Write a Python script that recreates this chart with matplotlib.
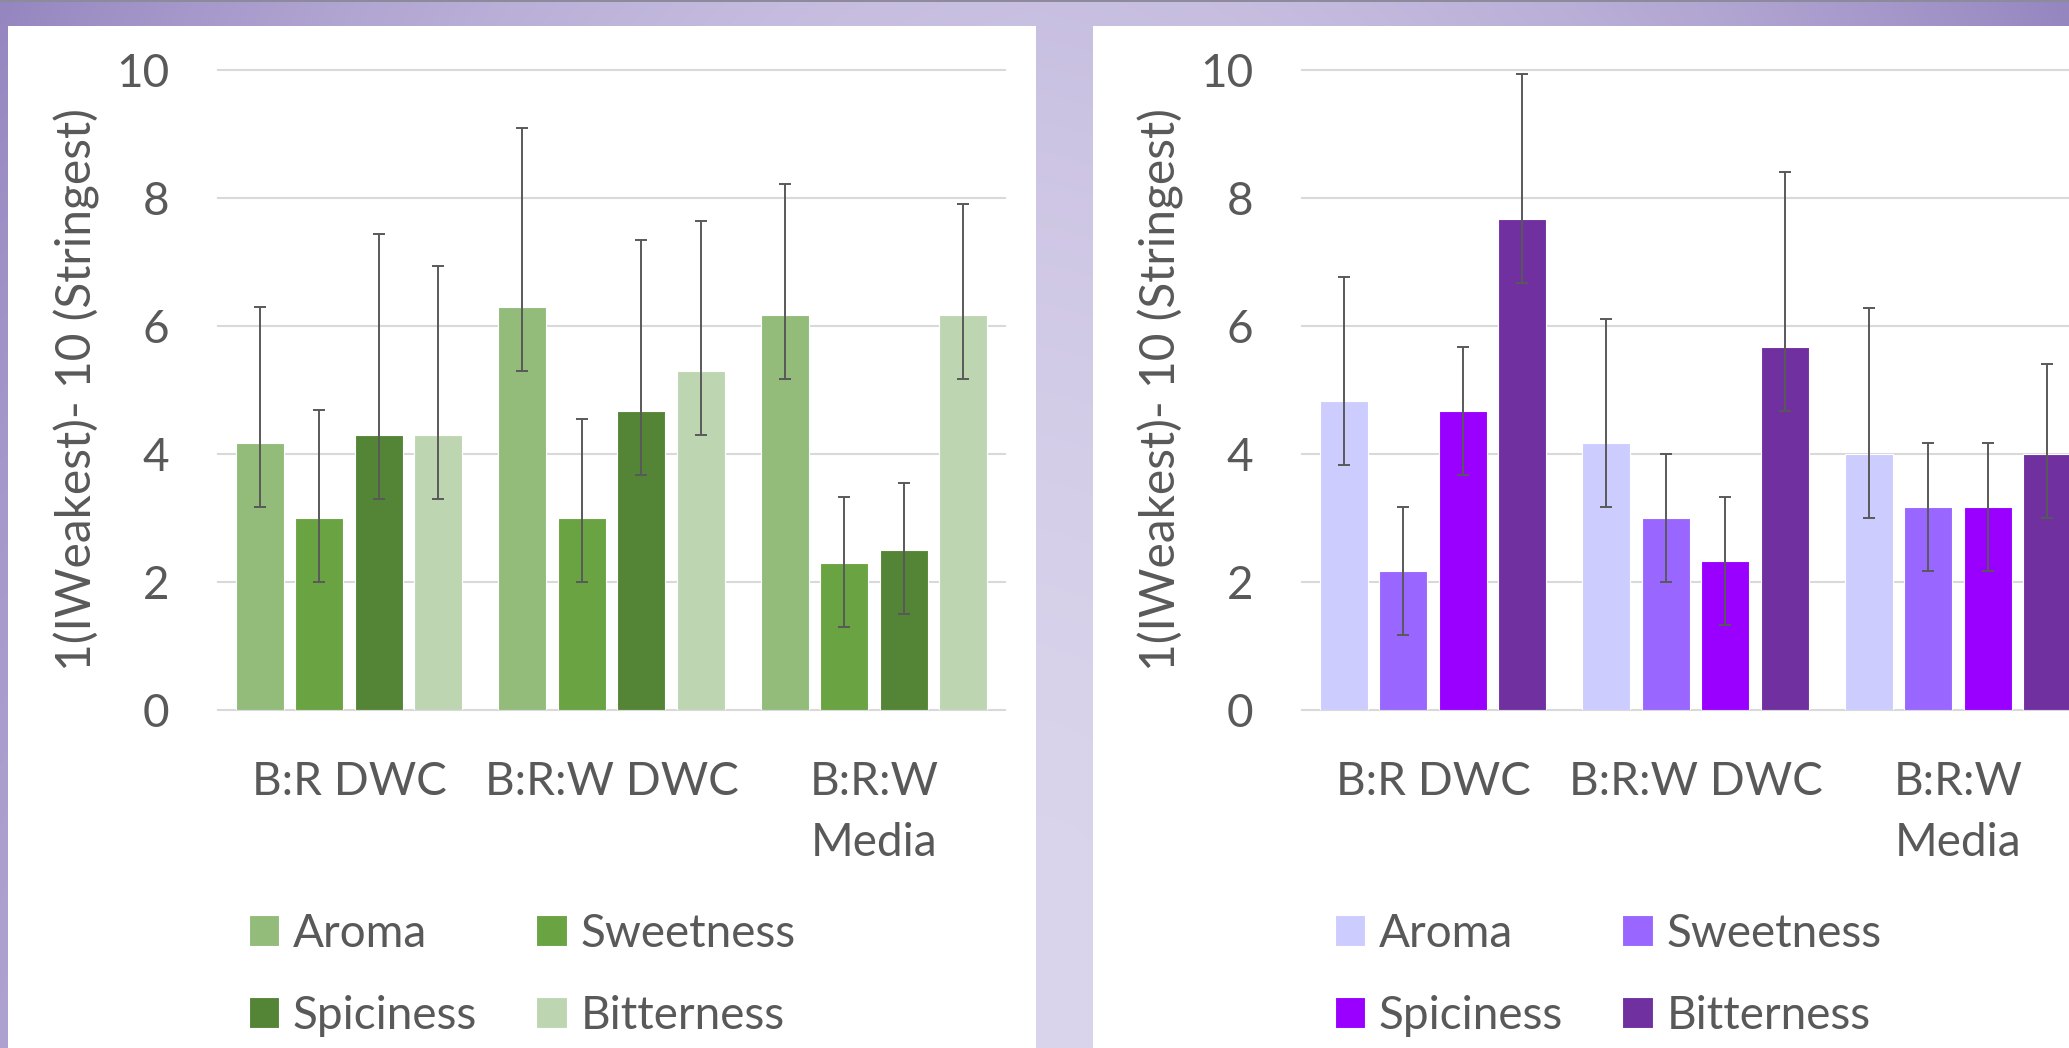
import numpy as np
import matplotlib
matplotlib.use("Agg")
import matplotlib.pyplot as plt
from matplotlib.patches import Rectangle

plt.rcParams['font.family'] = ['Lato', 'DejaVu Sans']

# data
categories = ['B:R DWC', 'B:R:W DWC', 'B:R:W\nMedia']
traits = ['Aroma', 'Sweetness', 'Spiciness', 'Bitterness']

# left chart (green)
green_vals = {
    'Aroma':      [4.17, 6.29, 6.17],
    'Sweetness':  [3.00, 3.00, 2.29],
    'Spiciness':  [4.29, 4.67, 2.50],
    'Bitterness': [4.29, 5.29, 6.17],
}
green_err_lo = {
    'Aroma':      [1.0, 1.0, 1.0],
    'Sweetness':  [1.0, 1.0, 1.0],
    'Spiciness':  [1.0, 1.0, 1.0],
    'Bitterness': [1.0, 1.0, 1.0],
}
green_err_hi = {
    'Aroma':      [2.12, 2.80, 2.05],
    'Sweetness':  [1.68, 1.55, 1.04],
    'Spiciness':  [3.14, 2.67, 1.05],
    'Bitterness': [2.65, 2.35, 1.73],
}

# right chart (purple)
purple_vals = {
    'Aroma':      [4.83, 4.17, 4.00],
    'Sweetness':  [2.17, 3.00, 3.17],
    'Spiciness':  [4.67, 2.33, 3.17],
    'Bitterness': [7.67, 5.67, 4.00],
}
purple_err_lo = {
    'Aroma':      [1.0, 1.0, 1.0],
    'Sweetness':  [1.0, 1.0, 1.0],
    'Spiciness':  [1.0, 1.0, 1.0],
    'Bitterness': [1.0, 1.0, 1.0],
}
purple_err_hi = {
    'Aroma':      [1.94, 1.94, 2.28],
    'Sweetness':  [1.0, 1.0, 1.0],
    'Spiciness':  [1.0, 1.0, 1.0],
    'Bitterness': [2.27, 2.73, 1.40],
}

green_colors = ['#93BC7B', '#6AA341', '#548536', '#BDD6B1']
purple_colors = ['#CCCCFF', '#9966FF', '#9900FF', '#7030A0']

ylabel = '1(IWeakest)- 10 (Stringest)'
text_color = '#595959'
grid_color = '#D9D9D9'
fs = 33

W, H = 2069, 1048
fig = plt.figure(figsize=(W / 100, H / 100), dpi=100)

# purple gradient background
bg = fig.add_axes([0, 0, 1, 1], zorder=-10)
gx = np.linspace(0, 1, 208)
gy = np.linspace(0, 1, 106)
X, Y = np.meshgrid(gx, gy)
dx = np.abs(X - 0.5) / 0.5
dy = 1 - Y  # 1 at top, 0 at bottom
t = np.clip(0.65 * dx ** 2 + 0.26 * dy ** 2 + 0.09 * dx * dy, 0, 1)
dark = np.array([0x96, 0x86, 0xC0]) / 255
light = np.array([0xDA, 0xD4, 0xEC]) / 255
img = light[None, None, :] + (dark - light)[None, None, :] * t[..., None]
bg.imshow(img, extent=[0, 1, 0, 1], aspect='auto', origin='upper', interpolation='bicubic')
bg.set_xlim(0, 1)
bg.set_ylim(0, 1)
bg.axis('off')

# white panels
fig.add_artist(Rectangle((8 / W, 0), (1036 - 8) / W, (H - 26) / H,
                         transform=fig.transFigure, facecolor='white', edgecolor='none', zorder=-5))
fig.add_artist(Rectangle((1093 / W, 0), (W - 1093) / W, (H - 26) / H,
                         transform=fig.transFigure, facecolor='white', edgecolor='none', zorder=-5))
fig.add_artist(Rectangle((0, 1 - 1.5 / H), 1, 1.5 / H,
                         transform=fig.transFigure, facecolor='#8E8A9E', edgecolor='none', zorder=-4))


def draw_panel(left_px, vals, err_lo, err_hi, colors, legend_x_px):
    ax = fig.add_axes([left_px / W, (H - 710) / H, 787 / W, 640 / H])
    ax.set_facecolor('none')
    x = np.arange(len(categories))
    pitch = 0.227
    width = 0.183
    handles = []
    for i, tr in enumerate(traits):
        off = (i - 1.5) * pitch
        b = ax.bar(x + off, vals[tr], width, color=colors[i], edgecolor='white',
                   linewidth=0.8, zorder=2, label=tr)
        handles.append(b)
        ax.errorbar(x + off, vals[tr], yerr=[err_lo[tr], err_hi[tr]], fmt='none',
                    ecolor=text_color, elinewidth=1.4, capsize=4.3, capthick=1.4, zorder=3)
    ax.set_xlim(-0.5, 2.5)
    ax.set_ylim(0, 10)
    ax.set_yticks([0, 2, 4, 6, 8, 10])
    ax.set_xticks(x)
    ax.set_xticklabels(categories, linespacing=1.55)
    ax.tick_params(axis='both', length=0, colors=text_color, labelsize=fs)
    ax.tick_params(axis='y', pad=35)
    ax.tick_params(axis='x', pad=37)
    for s in ax.spines.values():
        s.set_visible(False)
    ax.yaxis.grid(True, color=grid_color, linewidth=1.5)
    ax.set_axisbelow(True)
    for gl in ax.get_ygridlines():
        gl.set_clip_on(False)
    ax.set_ylabel(ylabel, fontsize=34.5, color=text_color, va='center')
    ax.yaxis.set_label_coords(-0.179, 0.5)

    order = [0, 2, 1, 3]
    leg = ax.legend([handles[k] for k in order], [traits[k] for k in order],
                    ncol=2, loc='upper left',
                    bbox_to_anchor=(legend_x_px / W, (H - 913) / H),
                    bbox_transform=fig.transFigure, frameon=False, fontsize=fs,
                    handlelength=0.66, handleheight=0.66, handletextpad=0.3,
                    columnspacing=1.29, labelspacing=0.87, borderpad=0, borderaxespad=0)
    for txt in leg.get_texts():
        txt.set_color(text_color)
    return ax


draw_panel(218, green_vals, green_err_lo, green_err_hi, green_colors, 249)
draw_panel(1302, purple_vals, purple_err_lo, purple_err_hi, purple_colors, 1335)

fig.savefig('out.png', dpi=100)
